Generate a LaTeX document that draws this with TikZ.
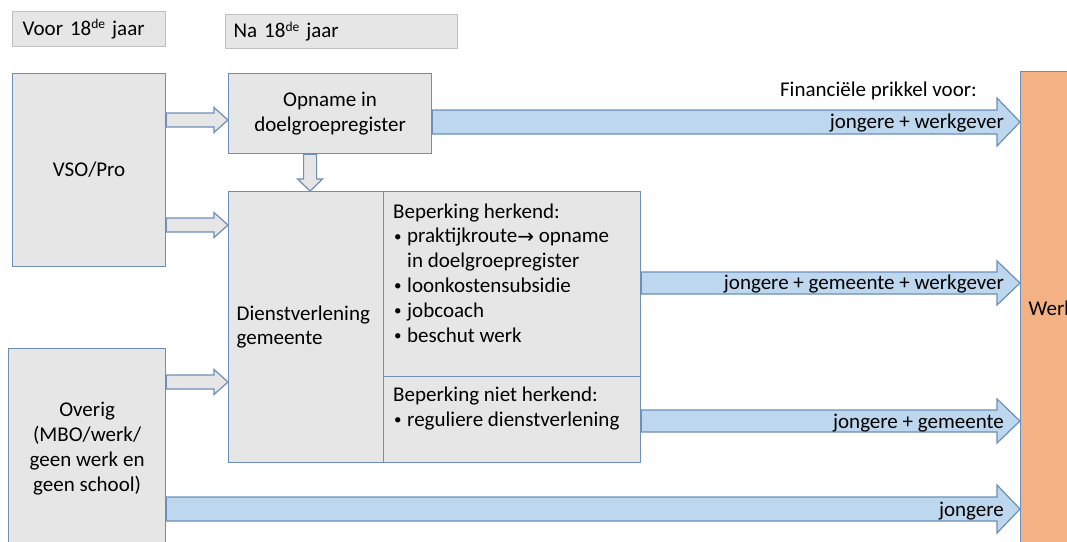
\documentclass[tikz,border=0pt]{standalone}
\usepackage{fontspec}
\setmainfont{Carlito}
\newfontfamily\dejavu{DejaVu Sans}
\usetikzlibrary{calc}
\definecolor{boxfill}{HTML}{E7E6E6}
\definecolor{boxline}{HTML}{6D8EB7}
\definecolor{hdrline}{HTML}{BFBFBF}
\definecolor{arrfill}{HTML}{BDD7EE}
\definecolor{werkfill}{HTML}{F4B183}
\newcommand\myblockh[6]{\draw[#1] let \p1=(#2), \p2=(#3) in
  (\x1,\y1+#4) -- (\x2-#6,\y1+#4) -- (\x2-#6,\y1+#5) -- (\x2,\y1) --
  (\x2-#6,\y1-#5) -- (\x2-#6,\y1-#4) -- (\x1,\y1-#4) -- cycle;}
\newcommand\myblockv[6]{\draw[#1] let \p1=(#2), \p2=(#3) in
  (\x1+#4,\y1) -- (\x1+#4,\y2+#6) -- (\x1+#5,\y2+#6) -- (\x1,\y2) --
  (\x1-#5,\y2+#6) -- (\x1-#4,\y2+#6) -- (\x1-#4,\y1) -- cycle;}
\newcommand\mysup[1]{\raisebox{6.5pt}{\fontsize{13.5}{13.5}\selectfont #1}}
\newcommand\mybul{\makebox[14pt][l]{\hspace*{1pt}\raisebox{1.5pt}{\fontsize{15}{15}\selectfont\textbullet}}}
\begin{document}
\begin{tikzpicture}[x=1pt,y=-1pt,
  font=\fontsize{21}{24.8}\selectfont,
  box/.style={draw=boxline, fill=boxfill, line width=1.2pt, inner sep=0pt, anchor=north west},
  hdr/.style={draw=hdrline, fill=boxfill, line width=1.2pt, anchor=north west, inner ysep=0pt, align=left},
  txt/.style={inner sep=0pt, anchor=base west, align=left},
  lbl/.style={inner sep=0pt, anchor=base east},
  bigarrow/.style={draw=boxline, fill=arrfill, line width=1.2pt},
  smallarrow/.style={draw=boxline, fill=boxfill, line width=1.2pt}]
\clip (0,0) rectangle (1067,541);
\fill[white] (0,0) rectangle (1067,541);

% headers
\node[hdr, inner xsep=10pt, text width=133pt, minimum height=35pt] (voor) at (12,11) {Voor 18\mysup{de} jaar};
\node[hdr, inner xsep=8pt, text width=216pt, minimum height=34pt] (na) at (225,14) {Na 18\mysup{de} jaar};

% boxes
\node[box, minimum width=153pt, minimum height=193pt, align=center] (vso) at (12,73) {VSO/Pro};
\node[box, minimum width=203pt, minimum height=80pt, align=center] (opname) at (228,73) {Opname in\\doelgroepregister};
\node[box, minimum width=155pt, minimum height=271pt, text width=139pt, inner xsep=8pt, align=left] (dienst) at (228,191) {Dienstverlening\\gemeente};
\node[box, minimum width=257pt, minimum height=185pt] (herkend) at (383,191) {};
\node[box, minimum width=257pt, minimum height=86pt] (niet) at (383,376) {};
\node[box, minimum width=157pt, minimum height=200pt, align=center] (overig) at (8,348) {Overig\\(MBO/werk/\\geen werk en\\geen school)};
\node[box, fill=werkfill, minimum width=60pt, minimum height=474pt, text width=52pt, inner xsep=8pt, align=left] (werk) at (1020,71) {Werk};

% texts in the right part (base = last line)
\node[txt] (herkendtxt) at (393,342) {Beperking herkend:\\
\mybul praktijkroute{\dejavu\fontsize{20}{24.8}\selectfont\raisebox{-1pt}{→}} opname\\
\hspace*{14pt}in doelgroepregister\\
\mybul loonkostensubsidie\\
\mybul jobcoach\\
\mybul beschut werk};
\node[txt] (niettxt) at (393,426) {Beperking niet herkend:\\
\mybul reguliere dienstverlening};

% small hollow arrows
\myblockh{smallarrow}{$(vso.north east)+(0,47)$}{opname.west}{7pt}{12.5pt}{14pt}
\myblockh{smallarrow}{$(vso.north east)+(0,152)$}{dienst.west}{7pt}{12.5pt}{14pt}
\myblockh{smallarrow}{$(overig.north east)+(0,34)$}{dienst.west}{7pt}{12.5pt}{14pt}
\myblockv{smallarrow}{$(opname.south)+(-20,0)$}{dienst.north}{6.5pt}{12.5pt}{12pt}

% big blue arrows
\myblockh{bigarrow}{$(opname.north east)+(0,49)$}{werk.west}{12pt}{24pt}{23pt}
\myblockh{bigarrow}{$(herkend.north east)+(0,92)$}{werk.west}{11pt}{22pt}{23pt}
\myblockh{bigarrow}{$(niet.north east)+(0,45)$}{werk.west}{11pt}{22pt}{23pt}
\myblockh{bigarrow}{$(overig.north east)+(0,161)$}{werk.west}{12pt}{24pt}{23pt}

% labels
\node[lbl] (fin) at (977,96) {Financiële prikkel voor:};
\node[lbl] (l1) at (1004,128) {jongere + werkgever};
\node[lbl] (l2) at (1004,289) {jongere + gemeente + werkgever};
\node[lbl] (l3) at (1004,428) {jongere + gemeente};
\node[lbl] (l4) at (1004,516) {jongere};
\end{tikzpicture}
\end{document}
